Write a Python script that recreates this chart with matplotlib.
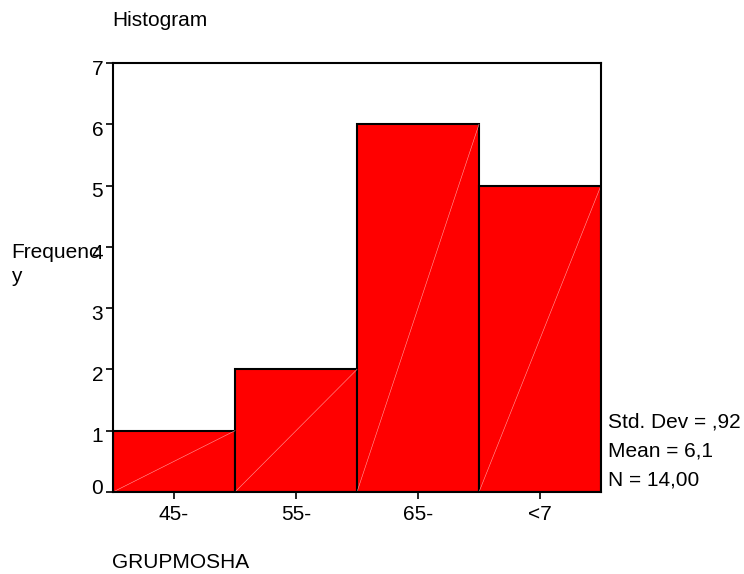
import numpy as np
import matplotlib.pyplot as plt
import matplotlib.transforms as mtransforms

plt.rcParams['font.family'] = ['Liberation Sans', 'DejaVu Sans']

# data
kategori = ['45-', '55-', '65-', '<7']
frekuensi = [1, 2, 6, 5]
statistik = ['Std. Dev = ,92', 'Mean = 6,1', 'N = 14,00']

fig = plt.figure(figsize=(7.44, 5.74), dpi=100)
ax = fig.add_axes([113/744, 1-492/574, 488/744, 429/574])

x = np.arange(len(kategori))
ax.bar(x, frekuensi, width=1.0, color='#ff0000', edgecolor='black', linewidth=1.5)
# faint diagonals inside bars (as in the original SPSS output)
for xi, h in zip(x, frekuensi):
    ax.plot([xi-0.5, xi+0.5], [0, h], color='#ffa0a0', lw=0.4)

ax.set_xlim(-0.5, len(kategori)-0.5)
ax.set_ylim(0, 7)
ax.set_yticks(range(8))
ax.set_xticks(x)
ax.set_xticklabels(kategori)
ax.tick_params(labelsize=15, direction='out', length=5, width=1.2)
ax.tick_params(axis='x', pad=4)
ax.tick_params(axis='y', pad=2)
for s in ax.spines.values():
    s.set_linewidth(1.5)

# SPSS puts the y labels a little below their ticks, and 0 above
for lab in ax.get_yticklabels():
    dy = 4/72 if lab.get_text() == '0' else -3/72
    lab.set_transform(lab.get_transform() + mtransforms.ScaledTranslation(0, dy, fig.dpi_scale_trans))

fig.text(112/744, 1-21/574, 'Histogram', fontsize=15, va='center')
fig.text(11/744, 1-258/574, 'Frequenc', fontsize=15, va='baseline')
fig.text(11/744, 1-282/574, 'y', fontsize=15, va='baseline')
fig.text(112/744, 1-562/574, 'GRUPMOSHA', fontsize=15, va='center')
for i, s in enumerate(statistik):
    fig.text(608/744, 1-(422+29*i)/574, s, fontsize=15, va='center')

plt.savefig('out.png', dpi=100)
